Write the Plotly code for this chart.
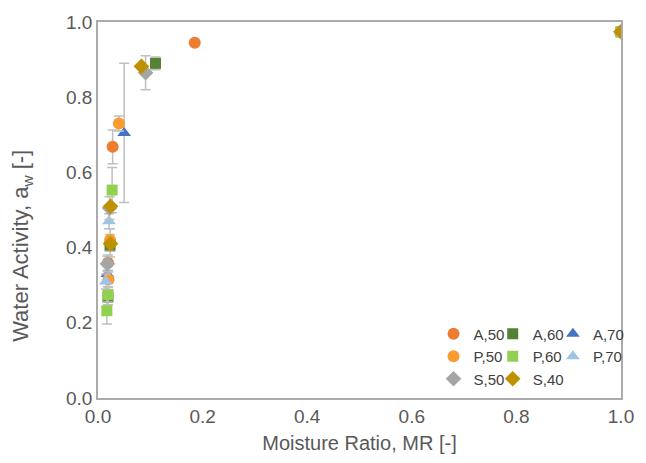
import plotly.graph_objects as go

# ---- data ----
series_names = ["A,50", "A,60", "A,70", "P,50", "P,60", "P,70", "S,50", "S,40"]

a50_x = [0.185, 0.028, 0.019, 1.0]
a50_y = [0.945, 0.668, 0.360, 0.974]
a50_e = [0.0, 0.045, 0.02, 0.0]

a60_x = [0.110, 0.023, 0.019, 1.0]
a60_y = [0.890, 0.405, 0.268, 0.974]
a60_e = [0.017, 0.03, 0.02, 0.0]

a70_x = [0.050, 0.018, 1.0]
a70_y = [0.705, 0.330, 0.974]
a70_e = [0.185, 0.02, 0.0]

p50_x = [0.040, 0.023, 0.020, 1.0]
p50_y = [0.730, 0.420, 0.315, 0.974]
p50_e = [0.02, 0.03, 0.02, 0.0]

p60_x = [0.027, 0.019, 0.017, 1.0]
p60_y = [0.553, 0.275, 0.232, 0.974]
p60_e = [0.06, 0.02, 0.035, 0.0]

p70_x = [0.021, 0.015, 1.0]
p70_y = [0.470, 0.310, 0.974]
p70_e = [0.02, 0.02, 0.0]

s50_x = [0.091, 0.022, 0.018, 1.0]
s50_y = [0.865, 0.505, 0.357, 0.974]
s50_e = [0.045, 0.03, 0.02, 0.0]

s40_x = [0.083, 0.024, 0.024, 1.0]
s40_y = [0.882, 0.510, 0.410, 0.974]
s40_e = [0.0, 0.0, 0.0, 0.0]

x_ticks = [0.0, 0.2, 0.4, 0.6, 0.8, 1.0]
y_ticks = [0.0, 0.2, 0.4, 0.6, 0.8, 1.0]

x_title = "Moisture Ratio, MR [-]"
y_title = "Water Activity, a<sub>w</sub> [-]"

# ---- styles ----
colors = ["#ED7D31", "#548235", "#4472C4", "#F99B30", "#92D050", "#9DC3E6", "#A5A5A5", "#BF9000"]
symbols = ["circle", "square", "triangle-up", "circle", "square", "triangle-up", "diamond", "diamond"]
sizes = [12, 11, 12, 12, 11, 12, 12, 12]
# legend columns: col1 = A,50 / P,50 / S,50 ; col2 = A,60 / P,60 / S,40 ; col3 = A,70 / P,70
legends = ["legend", "legend2", "legend3", "legend", "legend2", "legend3", "legend", "legend2"]

data = [
    (a50_x, a50_y, a50_e), (a60_x, a60_y, a60_e), (a70_x, a70_y, a70_e),
    (p50_x, p50_y, p50_e), (p60_x, p60_y, p60_e), (p70_x, p70_y, p70_e),
    (s50_x, s50_y, s50_e), (s40_x, s40_y, s40_e),
]

FONT = "Liberation Sans, Arial, sans-serif"
fig = go.Figure()
for name, (xs, ys, es), c, s, sz, lg in zip(series_names, data, colors, symbols, sizes, legends):
    fig.add_trace(go.Scatter(
        x=xs, y=ys, mode="markers", name=name, legend=lg,
        marker=dict(color=c, symbol=s, size=sz, line=dict(width=0)),
        error_y=dict(type="data", array=es, visible=True, color="#BFBFBF", thickness=1.5, width=5),
    ))

W, H = 646, 463
ml, mr, mt, mb = 98, 18, 21, 64
pw, ph = W - ml - mr, H - mt - mb

def px_to_paper_x(px):
    return (px - ml) / pw

def px_to_paper_y(py):
    return (H - mb - py) / ph

leg_common = dict(orientation="v", xanchor="left", yanchor="top",
                  font=dict(family=FONT, size=15, color="#404040"),
                  bgcolor="rgba(0,0,0,0)", itemwidth=30)

leg_top = px_to_paper_y(318)
fig.update_layout(
    width=W, height=H,
    margin=dict(l=ml, r=mr, t=mt, b=mb),
    paper_bgcolor="white", plot_bgcolor="white",
    font=dict(family=FONT, color="#595959"),
    legend=dict(x=px_to_paper_x(438), y=leg_top, **leg_common),
    legend2=dict(x=px_to_paper_x(498), y=leg_top, **leg_common),
    legend3=dict(x=px_to_paper_x(559), y=leg_top, **leg_common),
    xaxis=dict(range=[0, 1], tickvals=x_ticks, tickformat=".1f", showgrid=False, zeroline=False,
               showline=True, mirror=True, linecolor="#ABABAB", linewidth=1.5, ticks="",
               tickfont=dict(family=FONT, size=19, color="#595959"),
               title=dict(text=x_title, font=dict(family=FONT, size=20, color="#595959"), standoff=10)),
    yaxis=dict(range=[0, 1], tickvals=y_ticks, tickformat=".1f", showgrid=False, zeroline=False,
               showline=True, mirror=True, linecolor="#ABABAB", linewidth=1.5, ticks="",
               tickfont=dict(family=FONT, size=19, color="#595959")),
    annotations=[dict(text=y_title, textangle=-90, xref="paper", yref="paper",
                      x=px_to_paper_x(21), y=px_to_paper_y(246), xanchor="center", yanchor="middle",
                      showarrow=False, font=dict(family=FONT, size=22, color="#595959"))],
)

fig.write_html("out.html")
